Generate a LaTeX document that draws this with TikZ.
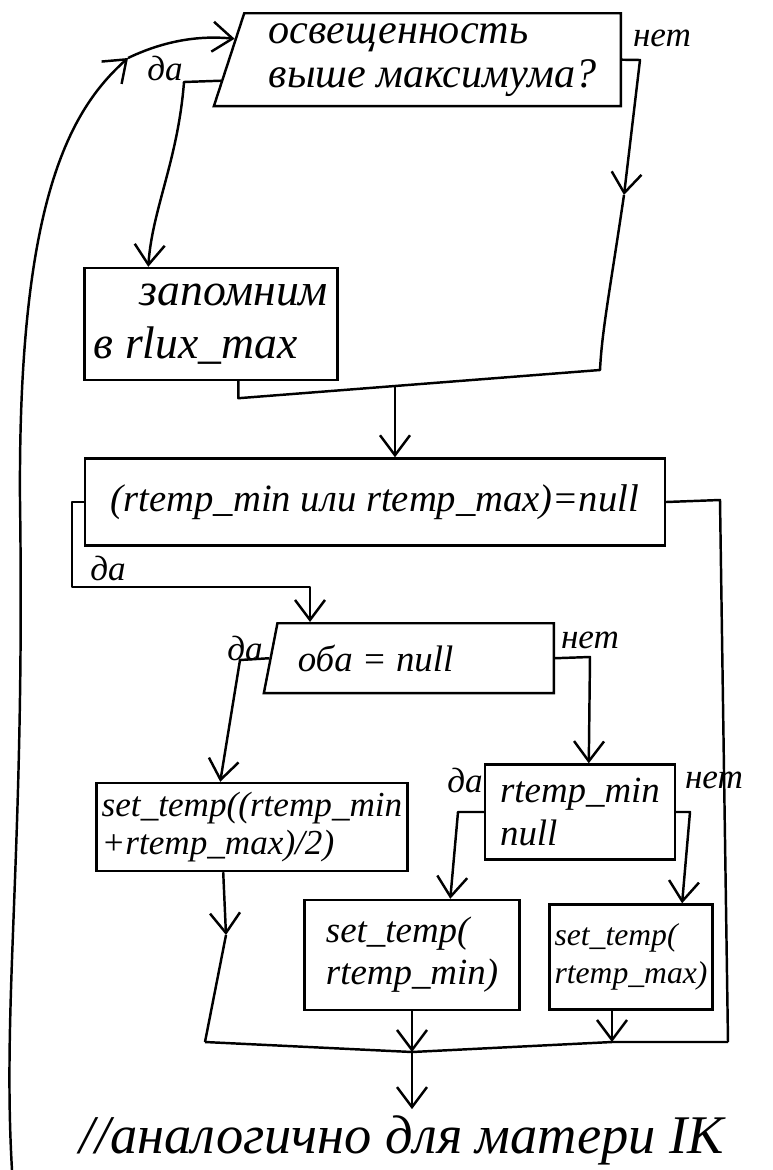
\documentclass[tikz,border=0pt]{standalone}
\usepackage{fontspec}
\setmainfont{Liberation Serif}
\usetikzlibrary{arrows.meta,shapes.geometric,calc}

\tikzset{
  box/.style={draw, line width=1.4pt, inner sep=3pt, align=left},
  slantbox/.style={box, trapezium, trapezium left angle=70, trapezium right angle=90, trapezium stretches body},
  link/.style={line width=1.4pt, line join=round},
  flow/.style={link, -{Straight Barb[length=4mm,width=6mm]}},
  lbl/.style={font=\itshape\fontsize{20}{22}\selectfont, inner sep=1pt}
}

\begin{document}
\begin{tikzpicture}[x=0.02cm, y=-0.02cm]
  \useasboundingbox (0,0) rectangle (773,1170);
  % blocks
  \node[slantbox, minimum width=8.14cm, minimum height=1.86cm, anchor=top right corner,
        font=\itshape\fontsize{24}{25}\selectfont] (q1) at (622,12) {освещенность\\выше максимума?};
  \node[box, minimum width=5.06cm, minimum height=2.24cm,
        font=\itshape\fontsize{26}{30}\selectfont] (s1) at (211,324) {\quad запомним\\в rlux\_max};
  \node[box, minimum width=11.6cm, minimum height=1.74cm,
        font=\itshape\fontsize{22}{24}\selectfont] (q2) at (375,502) {(rtemp\_min или rtemp\_max)=null};
  \node[slantbox, minimum width=5.8cm, minimum height=1.4cm, anchor=top right corner,
        font=\itshape\fontsize{21}{22}\selectfont] (q3) at (555,622) {оба = null\hspace{1.6cm}};
  \node[box, minimum width=6.1cm, minimum height=1.76cm,
        font=\itshape\fontsize{20}{22}\selectfont] (s2) at (252,827) {set\_temp((rtemp\_min\\+rtemp\_max)/2)};
  \node[box, minimum width=3.8cm, minimum height=1.9cm,
        font=\itshape\fontsize{21}{24}\selectfont] (q4) at (580,812) {rtemp\_min\\null\hspace{1.2cm}};
  \node[box, minimum width=4.3cm, minimum height=2.2cm,
        font=\itshape\fontsize{21}{24}\selectfont] (s3) at (412,955) {set\_temp(\\rtemp\_min)};
  \node[box, minimum width=3.16cm, minimum height=2.1cm,
        font=\itshape\fontsize{18}{22}\selectfont] (s4) at (631,957) {set\_temp(\\rtemp\_max)};
  \node[font=\itshape\fontsize{31}{34}\selectfont] (note) at (402,1140) {//аналогично для матери IK};

  % labels
  \node[lbl] (yes1) at (165,68) {да};
  \node[lbl] (no1) at (662,38) {нет};
  \node[lbl] (yes2) at (108,568) {да};
  \node[lbl] (yes3) at (245,648) {да};
  \node[lbl] (no3) at (590,640) {нет};
  \node[lbl] (yes4) at (465,780) {да};
  \node[lbl] (no4) at (714,780) {нет};

  % points of the connectors
  \coordinate (loopstart) at (12,1170);
  \coordinate (loopbend) at (128,58);
  \coordinate (noarrow1) at (624,195);
  \coordinate (join1) at (395,386);
  \coordinate (yesloop) at (72,587);
  \coordinate (q3in) at (310,587);
  \coordinate (s2arrow) at (226,935);
  \coordinate (mergeL) at (205,1042);
  \coordinate (mergeM) at (412,1052);
  \coordinate (mergeS4) at (612,1042);
  \coordinate (mergeR) at (728,1042);

  % loop back to the top
  \draw[flow] (loopstart) .. controls (2,1000) and (25,850) .. (20,500)
    .. controls (18,200) and (70,110) .. (loopbend);
  \draw[flow] (loopbend) .. controls (170,38) and (205,36) .. ($(q1.top left corner)!0.28!(q1.bottom left corner)$);

  % first check
  \draw[flow] ($(q1.top left corner)!0.72!(q1.bottom left corner)$) -- (184,82)
    .. controls (178,160) and (152,210) .. ($(s1.north west)+(65,0)$);
  \draw[flow] (q1.east) -- (640,60) -- (noarrow1);
  \draw[link] (noarrow1) .. controls (610,290) and (602,330) .. (600,370) -- (join1);
  \draw[link] ($(s1.south west)+(155,0)$) -- ++(0,17) -- (join1);
  \draw[flow] (join1) -- (q2.north -| join1);

  % second check
  \draw[flow] (q2.west) -- (yesloop |- q2.west) -- (yesloop) -- (q3in) -- (q3in |- q3.north);
  \draw[link] (q2.east) -- (720,500) -- (mergeR);

  % third check
  \draw[flow] (q3.left side) -- (240,660) -- ($(s2.north west)+(125,0)$);
  \draw[flow] (q3.east) -- (590,657) -- ($(q4.north west)+(105,0)$);
  \draw[flow] ($(s2.south west)+(128,0)$) -- (s2arrow);
  \draw[link] (s2arrow) -- (mergeL);

  % fourth check
  \draw[flow] (q4.west) -- (458,812) -- ($(s3.north west)+(147,0)$);
  \draw[flow] (q4.east) -- (690,812) -- ($(s4.north west)+(134,0)$);
  \draw[flow] (s3.south) -- (mergeM);
  \draw[flow] (s4.south -| mergeS4) -- (mergeS4);

  % merge
  \draw[link] (mergeL) -- (mergeM) -- (mergeS4) -- (mergeR);
  \draw[flow] (mergeM) -- (note.north -| mergeM);
\end{tikzpicture}
\end{document}
